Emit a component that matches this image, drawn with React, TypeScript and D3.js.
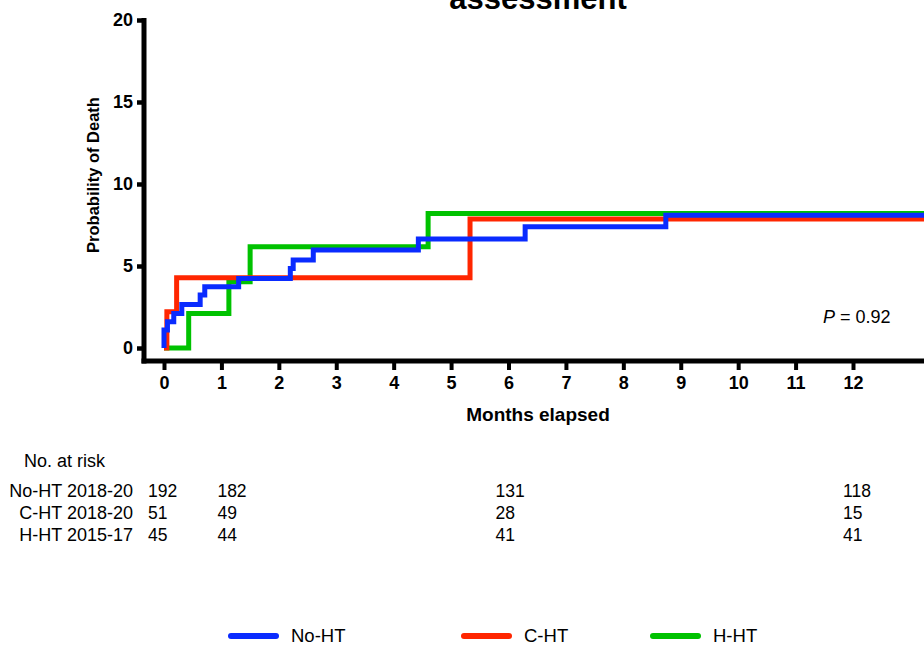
import React, { useEffect, useRef } from 'react';
import * as d3 from 'd3';

// x ticks (months) and y ticks (%)
const monthTicks = d3.range(0, 13);
const probTicks = [0, 5, 10, 15, 20];

// Kaplan-Meier steps: time (months) / cumulative probability (%)
const noHtTimes = [0, 0, 0.06, 0.17, 0.31, 0.63, 0.71, 1.3, 2.2, 2.25, 2.6, 4.43, 6.29, 8.74];
const noHtProb = [0, 1.1, 1.6, 2.11, 2.66, 3.23, 3.73, 4.24, 4.85, 5.36, 5.97, 6.64, 7.39, 8.1];
const cHtTimes = [0, 0.05, 0.22, 5.33];
const cHtProb = [0, 2.21, 4.28, 7.86];
const hHtTimes = [0, 0.43, 1.13, 1.5, 4.6];
const hHtProb = [0, 2.11, 4.04, 6.17, 8.2];

// number at risk table
const riskGroups = ['No-HT 2018-20', 'C-HT 2018-20', 'H-HT 2015-17'];
const riskTimes = [0, 1, 6, 12];
const noHtRisk = [192, 182, 131, 118];
const cHtRisk = [51, 49, 28, 15];
const hHtRisk = [45, 44, 41, 41];

const legendNames = ['No-HT', 'C-HT', 'H-HT'];

const FONT = "'Liberation Sans', Arial, Helvetica, sans-serif";
const BLUE = '#0a2bff';
const RED = '#ff2600';
const GREEN = '#00c200';

const App = () => {
  const svgRef = useRef<SVGSVGElement>(null);

  useEffect(() => {
    const svg = d3.select(svgRef.current);
    svg.selectAll('*').remove();
    const width = 924;
    const height = 645;
    svg.attr('width', width).attr('height', height).style('font-family', FONT);

    const xScale = d3.scaleLinear().domain([0, 12]).range([164, 853]);
    const yScale = d3.scaleLinear().domain([0, 20]).range([348, 20]);
    const tEnd = 13.8;

    const axisY = 361;
    const axisX = 144;

    // title (cut at the top in the original too)
    svg.append('text')
      .attr('x', 538)
      .attr('y', 9)
      .attr('text-anchor', 'middle')
      .style('font-size', '31px')
      .style('font-weight', 'bold')
      .text('assessment');

    // curves
    const series = [
      { times: hHtTimes, prob: hHtProb, color: GREEN },
      { times: cHtTimes, prob: cHtProb, color: RED },
      { times: noHtTimes, prob: noHtProb, color: BLUE },
    ];
    const line = d3.line<[number, number]>()
      .x(d => xScale(d[0]))
      .y(d => yScale(d[1]))
      .curve(d3.curveStepAfter);

    series.forEach(s => {
      const pts: [number, number][] = s.times.map((t, i) => [t, s.prob[i]]);
      pts.push([tEnd, s.prob[s.prob.length - 1]]);
      svg.append('path')
        .datum(pts)
        .attr('d', line)
        .attr('fill', 'none')
        .attr('stroke', s.color)
        .attr('stroke-width', 5)
        .attr('stroke-linejoin', 'miter')
        .attr('stroke-linecap', 'butt');
    });

    // x axis
    const gx = svg.append('g').attr('transform', `translate(0,${axisY})`);
    gx.call(d3.axisBottom(xScale).tickValues(monthTicks).tickSize(9).tickPadding(6).tickFormat(d3.format('d')));
    gx.select('.domain').remove();
    gx.selectAll('.tick line').attr('stroke', '#000').attr('stroke-width', 4);
    gx.selectAll('.tick text')
      .attr('fill', '#000')
      .style('font-family', FONT)
      .style('font-size', '18px')
      .style('font-weight', 'bold');
    svg.append('line')
      .attr('x1', axisX - 2.5).attr('x2', xScale(tEnd))
      .attr('y1', axisY).attr('y2', axisY)
      .attr('stroke', '#000').attr('stroke-width', 5);

    // y axis
    const gy = svg.append('g').attr('transform', `translate(${axisX},0)`);
    gy.call(d3.axisLeft(yScale).tickValues(probTicks).tickSize(7).tickPadding(4));
    gy.select('.domain').remove();
    gy.selectAll('.tick line').attr('stroke', '#000').attr('stroke-width', 4.5);
    gy.selectAll('.tick text')
      .attr('fill', '#000')
      .style('font-family', FONT)
      .style('font-size', '18px')
      .style('font-weight', 'bold');
    svg.append('line')
      .attr('x1', axisX).attr('x2', axisX)
      .attr('y1', 18).attr('y2', axisY + 2.5)
      .attr('stroke', '#000').attr('stroke-width', 5);

    // axis titles
    svg.append('text')
      .attr('transform', 'translate(99,175) rotate(-90)')
      .attr('text-anchor', 'middle')
      .style('font-size', '16.5px')
      .style('font-weight', 'bold')
      .text('Probability of Death');

    svg.append('text')
      .attr('x', 538)
      .attr('y', 421)
      .attr('text-anchor', 'middle')
      .style('font-size', '19px')
      .style('font-weight', 'bold')
      .text('Months elapsed');

    // P value
    const pText = svg.append('text')
      .attr('x', 823)
      .attr('y', 323)
      .style('font-size', '18px');
    pText.append('tspan').style('font-style', 'italic').text('P');
    pText.append('tspan').text(' = 0.92');

    // number at risk
    svg.append('text')
      .attr('x', 24)
      .attr('y', 467)
      .style('font-size', '18px')
      .text('No. at risk');

    const rowY = [497, 519, 541];
    const colShift = [-16, -4, -13, -10];
    const riskRows = [noHtRisk, cHtRisk, hHtRisk];
    riskGroups.forEach((g, i) => {
      svg.append('text')
        .attr('x', 133)
        .attr('y', rowY[i])
        .attr('text-anchor', 'end')
        .style('font-size', '18px')
        .text(g);
      riskRows[i].forEach((v, j) => {
        svg.append('text')
          .attr('x', xScale(riskTimes[j]) + colShift[j])
          .attr('y', rowY[i])
          .style('font-size', '17.5px')
          .text(v);
      });
    });

    // legend
    const legendColors = [BLUE, RED, GREEN];
    const legendX = [231, 464, 653];
    legendNames.forEach((name, i) => {
      svg.append('line')
        .attr('x1', legendX[i]).attr('x2', legendX[i] + 45)
        .attr('y1', 636).attr('y2', 636)
        .attr('stroke', legendColors[i])
        .attr('stroke-width', 6)
        .attr('stroke-linecap', 'round');
      svg.append('text')
        .attr('x', legendX[i] + 60)
        .attr('y', 642)
        .style('font-size', '18.5px')
        .text(name);
    });
  }, []);

  return (
    <div style={{ position: 'absolute', left: 0, top: 0 }}>
      <svg ref={svgRef} style={{ display: 'block' }}></svg>
    </div>
  );
};

export default App;
